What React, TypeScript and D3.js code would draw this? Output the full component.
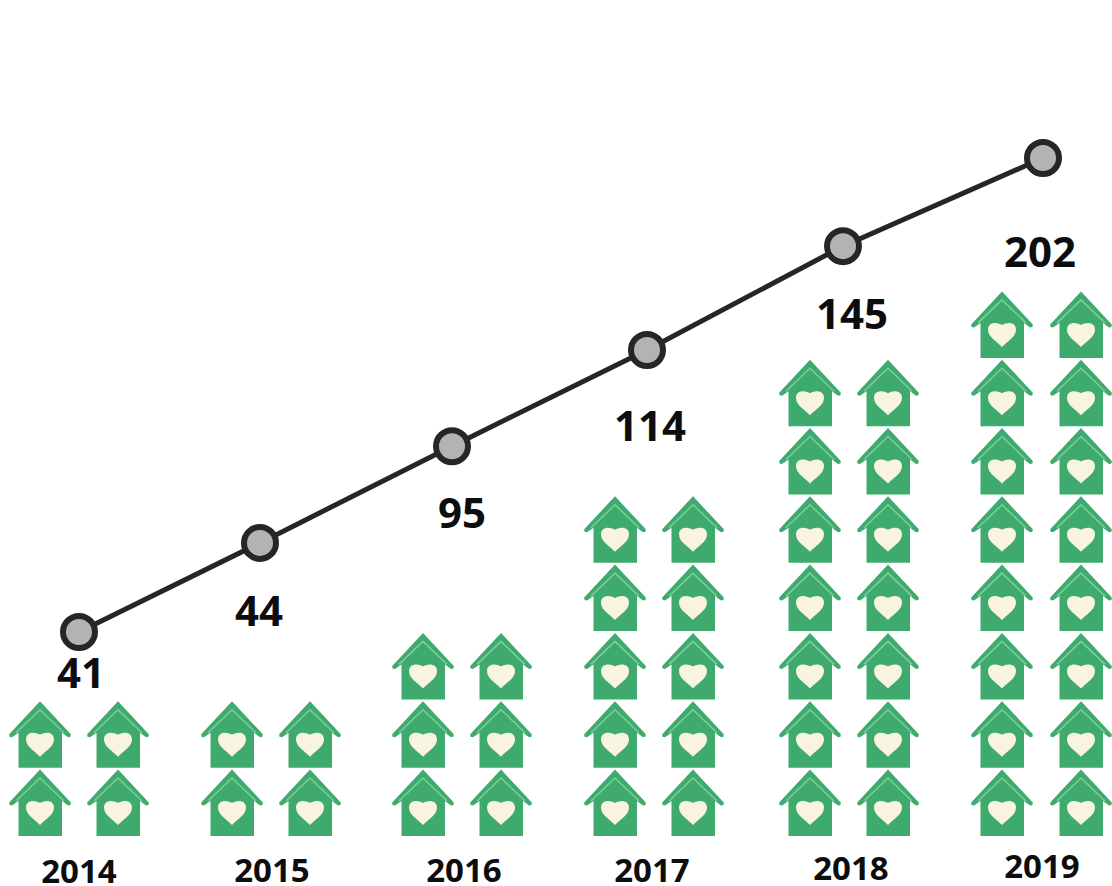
import React from "react";
import * as d3 from "d3";

const years = [2014, 2015, 2016, 2017, 2018, 2019];
const counts = [41, 44, 95, 114, 145, 202];
// Height of each marker on the line (0 = first, 100 = last)
const lineLevels = [0, 18.8, 39.2, 59.5, 81.4, 100];
const houseRows = [2, 2, 3, 5, 7, 8];

// Layout
const lineXs = [79, 260, 452, 647, 843, 1043];
const valueXs = [81, 259, 462, 650, 852, 1040];
const valueYs = [671, 609, 511, 424, 312, 250];
const yearXs = [79, 272, 464, 652, 851, 1042];
const yearYs = [870, 869, 869, 869, 867, 865];
const houseLeftXs = [40, 232, 423, 615, 810, 1002];
const houseRightXs = [118, 310, 501, 693, 888, 1081];

const FONT = "'Open Sans', sans-serif";
const GREEN = "#3faa6e";
const ROOF_LINE = "#7ccf99";
const HEART = "#f8f4e0";

const xLine = d3.scaleLinear().domain(years).range(lineXs);
const yLine = d3.scaleLinear().domain([0, 100]).range([632, 158]);
const xValue = d3.scaleLinear().domain(years).range(valueXs);
const yValue = d3.scaleOrdinal<number, number>().domain(years).range(valueYs);
const xYear = d3.scaleLinear().domain(years).range(yearXs);
const yYear = d3.scaleOrdinal<number, number>().domain(years).range(yearYs);
const xHouseL = d3.scaleLinear().domain(years).range(houseLeftXs);
const xHouseR = d3.scaleLinear().domain(years).range(houseRightXs);
// Row 0 is the bottom row of houses; value is the y of the house's apex
const yRow = d3.scaleLinear().domain([0, 1]).range([769.5, 701.2]);

const lineGen = d3
  .line<number>()
  .x((_, i) => xLine(years[i]))
  .y((d) => yLine(d));

function House({ cx, top }: { cx: number; top: number }) {
  return (
    <g transform={`translate(${cx},${top})`}>
      <path
        d="M0,0 L30.8,33 L30.5,35.5 L28,36 L22,31.5 L22,66.5 L-21.5,66.5 L-21.5,31.5 L-28,36 L-30.5,35.5 L-30.8,33 Z"
        fill={GREEN}
      />
      <path d="M-24,31.5 L0,8.5 L24,31.5" fill="none" stroke={ROOF_LINE} strokeWidth={1.5} />
      <path
        d="M0,55.5 C-5,50 -14,45.5 -14,38 C-14,33.5 -10.5,31.5 -7,31.5 C-4,31.5 -1.5,32.5 0,33.5 C1.5,32.5 4,31.5 7,31.5 C10.5,31.5 14,33.5 14,38 C14,45.5 5,50 0,55.5 Z"
        fill={HEART}
      />
    </g>
  );
}

export default function App() {
  return (
    <svg
      width={1112}
      height={886}
      viewBox="0 0 1112 886"
      style={{ position: "absolute", left: 0, top: 0, background: "#fff" }}
    >
      {years.map((year, i) =>
        d3.range(houseRows[i]).map((r) => (
          <g key={`${year}-${r}`}>
            <House cx={xHouseL(year)} top={yRow(r)} />
            <House cx={xHouseR(year)} top={yRow(r)} />
          </g>
        ))
      )}
      <path d={lineGen(lineLevels) ?? ""} fill="none" stroke="#262626" strokeWidth={5} />
      {years.map((year, i) => (
        <circle
          key={year}
          cx={xLine(year)}
          cy={yLine(lineLevels[i])}
          r={16}
          fill="#b3b3b3"
          stroke="#262626"
          strokeWidth={6}
        />
      ))}
      {years.map((year, i) => (
        <text
          key={year}
          x={xValue(year)}
          y={yValue(year)}
          textAnchor="middle"
          dominantBaseline="central"
          fontFamily={FONT}
          fontWeight={700}
          fontSize={42}
          fill="#0d0d0d"
        >
          {counts[i]}
        </text>
      ))}
      {years.map((year) => (
        <text
          key={year}
          x={xYear(year)}
          y={yYear(year)}
          textAnchor="middle"
          dominantBaseline="central"
          fontFamily={FONT}
          fontWeight={700}
          fontSize={33}
          fill="#0d0d0d"
        >
          {year}
        </text>
      ))}
    </svg>
  );
}
